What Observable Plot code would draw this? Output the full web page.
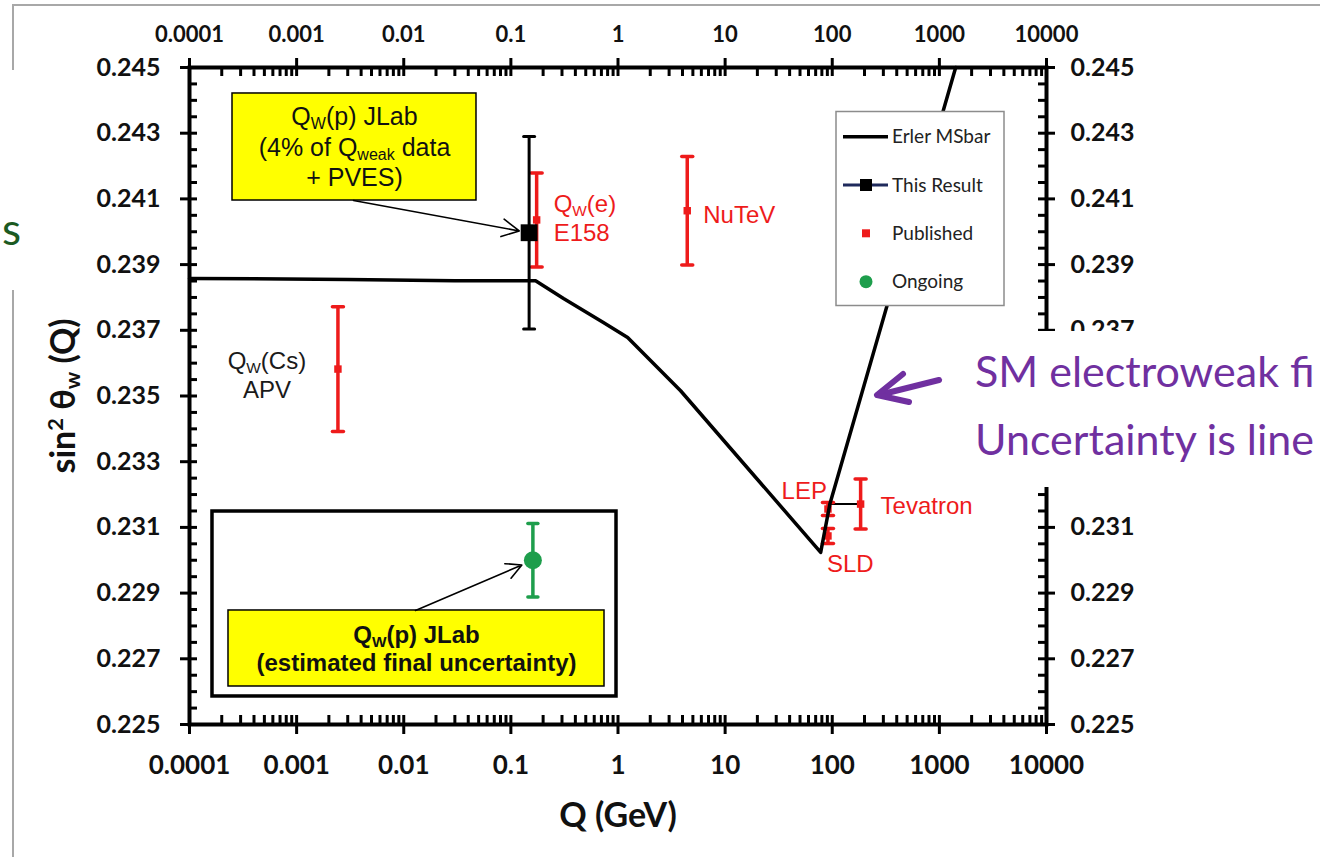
<!DOCTYPE html>
<html>
<head>
<meta charset="utf-8">
<script src="https://cdn.jsdelivr.net/npm/d3@7"></script>
<script src="https://cdn.jsdelivr.net/npm/@observablehq/plot@0.6"></script>
<style>
  html, body { margin: 0; padding: 0; background: #fff; }
  #stage { position: relative; width: 1320px; height: 857px; overflow: hidden; background: #fff; }
  #stage > svg { position: absolute; left: 0; top: 0; }
</style>
</head>
<body>
<div id="stage"></div>
<script>
// ---------------- data ----------------
const xTicks = [0.0001, 0.001, 0.01, 0.1, 1, 10, 100, 1000, 10000];
const xTickLabels = ["0.0001", "0.001", "0.01", "0.1", "1", "10", "100", "1000", "10000"];
const yTicks = [0.225, 0.227, 0.229, 0.231, 0.233, 0.235, 0.237, 0.239, 0.241, 0.243, 0.245];
const yTickLabels = ["0.225", "0.227", "0.229", "0.231", "0.233", "0.235", "0.237", "0.239", "0.241", "0.243", "0.245"];
// right-axis labels that the slide's text box hides
const yRightHidden = [0.233, 0.235];

// Erler MSbar running of sin^2 theta_W
const erlerQ = [0.0001, 0.003, 0.03, 0.17, 0.31, 0.73, 1.23, 3.84, 78, 95, 1420];
const erlerS = [0.23858, 0.23855, 0.23851, 0.23851, 0.23797, 0.23724, 0.23678, 0.23516, 0.23024, 0.23171, 0.245];

// Published measurements
const publishedLabels = ["Q_{W}(Cs)\nAPV", "Q_{W}(e)\nE158", "NuTeV", "LEP", "SLD", "Tevatron"];
const publishedQ = [0.00243, 0.174, 4.43, 91.19, 91.19, 184];
const publishedS = [0.23582, 0.24036, 0.24064, 0.23156, 0.23074, 0.23171];
const publishedErr = [0.0019, 0.00143, 0.00165, 0.0002, 0.00023, 0.00076];

// This result
const thisResultQ = [0.148];
const thisResultS = [0.23997];
const thisResultErr = [0.00293];

// Ongoing
const ongoingQ = [0.1605];
const ongoingS = [0.2300];
const ongoingErr = [0.00112];

const legendLabels = ["Erler MSbar", "This Result", "Published", "Ongoing"];
const calloutTopText = "Q_{W}(p) JLab\n(4% of Q_{weak} data\n+ PVES)";
const calloutBottomText = "Q_{W}(p) JLab\n(estimated final uncertainty)";
const xTitle = "Q (GeV)";
const yTitle = "sin^{2} θ_{w} (Q)";
const noteLines = ["SM electroweak fi", "Uncertainty is line"];
const leftCutText = "s";

// ---------------- layout / style ----------------
const W = 1320, H = 857;
const M = {left: 189, right: 274, top: 67, bottom: 133};
const FW = W - M.left - M.right, FH = H - M.top - M.bottom;
const X0 = 1e-4, X1 = 1e4, Y0 = 0.225, Y1 = 0.245;
const RED = "#ee1b1b", GREEN = "#1e9e4c", PURPLE = "#7030a0", YELLOW = "#ffff00";
const labelLayout = [
  {dx: -71, dy: 5, textAnchor: "middle", fill: "#1a1a1a"},
  {dx: 17, dy: -2.5, textAnchor: "start", fill: RED},
  {dx: 16, dy: 3, textAnchor: "start", fill: RED},
  {dx: -1, dy: -19, textAnchor: "end", fill: RED},
  {dx: -1, dy: 27, textAnchor: "start", fill: RED},
  {dx: 20, dy: 1, textAnchor: "start", fill: RED}
];
const callouts = {
  topBox: {x1: 2.52e-4, x2: 0.04776, y1: 0.240951, y2: 0.244209},
  topText: {x: 0.00347, y: 0.242623},
  topArrowFrom: {x: 0.003396, y: 0.240951},
  outerBox: {x1: 1.639e-4, x2: 0.9683, y1: 0.225853, y2: 0.231484},
  bottomBox: {x1: 2.312e-4, x2: 0.7482, y1: 0.226157, y2: 0.228471},
  bottomText: {x: 0.01315, y: 0.227338},
  bottomArrowFrom: {x: 0.01287, y: 0.228471}
};

// ---------------- tables ----------------
const erler = erlerQ.map((Q, i) => ({Q, S: erlerS[i]}));
const published = publishedQ.map((Q, i) => ({Q, S: publishedS[i], err: publishedErr[i], label: publishedLabels[i]}));
const thisResult = thisResultQ.map((Q, i) => ({Q, S: thisResultS[i], err: thisResultErr[i]}));
const ongoing = ongoingQ.map((Q, i) => ({Q, S: ongoingS[i], err: ongoingErr[i]}));

const minorX = [];
for (let e = -4; e < 4; e++) for (let k = 2; k <= 9; k++) minorX.push(k * Math.pow(10, e));
const minorY = [];
for (let i = 0; i <= 40; i++) if (i % 4) minorY.push(+(0.225 + i * 0.0005).toFixed(5));

const xLabel = new Map(xTicks.map((t, i) => [t, xTickLabels[i]]));
const yLabel = new Map(yTicks.map((t, i) => [t, yTickLabels[i]]));

const capShape = {draw(ctx, l) { ctx.moveTo(-l / 2, 0); ctx.lineTo(l / 2, 0); }};
function errorBars(data, color, width, capLen) {
  return [
    Plot.ruleX(data, {x: "Q", y1: d => d.S - d.err, y2: d => d.S + d.err, stroke: color, strokeWidth: width}),
    Plot.vector(data, {x: "Q", y: d => d.S + d.err, length: capLen, anchor: "start", shape: capShape, stroke: color, strokeWidth: width}),
    Plot.vector(data, {x: "Q", y: d => d.S - d.err, length: capLen, anchor: "start", shape: capShape, stroke: color, strokeWidth: width})
  ];
}

// tick marks: short rules in data space (majors cross the axis, minors point inward)
const yPx = (Y1 - Y0) / FH;                      // data units per pixel (y)
const xPx = Math.log10(X1 / X0) / FW;            // decades per pixel (x)
const yOff = (edge, px) => () => edge + px * yPx;
const xOff = (edge, px) => () => edge * Math.pow(10, px * xPx);
const tk = {stroke: "black", strokeWidth: 3};
const axisMarks = [
  Plot.ruleX(xTicks, {x: d => d, y1: yOff(Y0, -10), y2: yOff(Y0, 9), ...tk}),
  Plot.ruleX(minorX, {x: d => d, y1: yOff(Y0, 0), y2: yOff(Y0, 9), ...tk}),
  Plot.ruleX(xTicks, {x: d => d, y1: yOff(Y1, -9), y2: yOff(Y1, 9), ...tk}),
  Plot.ruleX(minorX, {x: d => d, y1: yOff(Y1, -9), y2: yOff(Y1, 0), ...tk}),
  Plot.ruleY(yTicks, {y: d => d, x1: xOff(X0, -9), x2: xOff(X0, 8), ...tk}),
  Plot.ruleY(minorY, {y: d => d, x1: xOff(X0, 0), x2: xOff(X0, 8), ...tk}),
  Plot.ruleY(yTicks, {y: d => d, x1: xOff(X1, -8), x2: xOff(X1, 9), ...tk}),
  Plot.ruleY(minorY, {y: d => d, x1: xOff(X1, -8), x2: xOff(X1, 0), ...tk})
];
const labelOpts = {tickSize: 0, label: null, fontWeight: "bold", fontFamily: "Lato", fill: "#111"};
axisMarks.push(Plot.axisX({anchor: "bottom", ticks: xTicks, tickPadding: 31, tickFormat: d => xLabel.get(d), fontSize: 26, ...labelOpts}));
axisMarks.push(Plot.axisX({anchor: "top", ticks: xTicks, tickPadding: 26, tickFormat: d => xLabel.get(d), fontSize: 22, ...labelOpts}));
axisMarks.push(Plot.axisY({anchor: "left", ticks: yTicks, tickPadding: 29, tickFormat: d => yLabel.get(d), fontSize: 25, ...labelOpts}));
axisMarks.push(Plot.axisY({anchor: "right", ticks: yTicks.filter(t => !yRightHidden.includes(t)), tickPadding: 24, tickFormat: d => yLabel.get(d), fontSize: 25, textAnchor: "start", ...labelOpts}));

const labelMarks = published.map((d, i) => Plot.text([d], {
  x: "Q", y: "S", text: "label", dx: labelLayout[i].dx, dy: labelLayout[i].dy,
  textAnchor: labelLayout[i].textAnchor, fill: labelLayout[i].fill,
  fontSize: 24, lineHeight: 1.2, fontFamily: "Liberation Sans, Arial, sans-serif"
}));

const svg = Plot.plot({
  width: W, height: H,
  marginLeft: M.left, marginRight: M.right, marginTop: M.top, marginBottom: M.bottom,
  x: {type: "log", domain: [X0, X1]},
  y: {domain: [Y0, Y1]},
  style: {background: "transparent", overflow: "visible", fontFamily: "Lato"},
  marks: [
    // callout boxes
    Plot.rect([callouts.outerBox], {x1: "x1", x2: "x2", y1: "y1", y2: "y2", fill: "white", stroke: "black", strokeWidth: 3.5}),
    Plot.rect([callouts.bottomBox], {x1: "x1", x2: "x2", y1: "y1", y2: "y2", fill: YELLOW, stroke: "black", strokeWidth: 1.5}),
    Plot.rect([callouts.topBox], {x1: "x1", x2: "x2", y1: "y1", y2: "y2", fill: YELLOW, stroke: "black", strokeWidth: 1.5}),
    Plot.text([{...callouts.topText, t: calloutTopText}], {x: "x", y: "y", text: "t", fontSize: 25, lineHeight: 1.24, fill: "#111", fontFamily: "Liberation Sans, Arial, sans-serif"}),
    Plot.text([{...callouts.bottomText, t: calloutBottomText}], {x: "x", y: "y", text: "t", fontSize: 24, lineHeight: 1.2, fontWeight: "bold", fill: "#111", fontFamily: "Liberation Sans, Arial, sans-serif"}),
    Plot.arrow(thisResult, {x1: () => callouts.topArrowFrom.x, y1: () => callouts.topArrowFrom.y, x2: "Q", y2: "S", insetEnd: 10, headLength: 18, headAngle: 55, stroke: "black", strokeWidth: 1.6}),
    Plot.arrow(ongoing, {x1: () => callouts.bottomArrowFrom.x, y1: () => callouts.bottomArrowFrom.y, x2: "Q", y2: "S", insetEnd: 12, headLength: 16, headAngle: 55, stroke: "black", strokeWidth: 1.6}),
    // Tevatron link to Z pole
    Plot.ruleY([published[5]], {y: "S", x1: () => published[3].Q, x2: "Q", stroke: "black", strokeWidth: 2}),
    // error bars and markers
    ...errorBars(published, RED, 3.5, 11),
    ...errorBars(thisResult, "black", 3, 11),
    ...errorBars(ongoing, GREEN, 3.5, 10),
    Plot.dot(published, {x: "Q", y: "S", symbol: "square", r: 4.2, fill: RED}),
    Plot.line(erler, {x: "Q", y: "S", stroke: "black", strokeWidth: 3.5, strokeLinejoin: "round"}),
    Plot.dot(thisResult, {x: "Q", y: "S", symbol: "square", r: 9.5, fill: "black"}),
    Plot.dot(ongoing, {x: "Q", y: "S", r: 9, fill: GREEN}),
    ...labelMarks,
    // titles
    Plot.text([xTitle], {frameAnchor: "bottom", dy: 92, lineAnchor: "middle", textAnchor: "middle", text: d => d, fontSize: 34, fontWeight: "bold", fontFamily: "Lato", fill: "#111"}),
    Plot.text([yTitle], {frameAnchor: "left", dx: -125, rotate: -90, lineAnchor: "middle", textAnchor: "middle", text: d => d, fontSize: 34, fontWeight: "bold", fontFamily: "Lato", fill: "#111"}),
    Plot.frame({stroke: "black", strokeWidth: 4}),
    ...axisMarks
  ]
});

const stage = document.getElementById("stage");
stage.appendChild(svg);

// sub/superscript markup -> tspans (run once in the document so font sizes resolve)
function richify(root) {
  const NS = "http://www.w3.org/2000/svg";
  root.querySelectorAll("text, tspan").forEach(node => {
    if (node.querySelector("tspan")) return;
    const s = node.textContent;
    if (!/[_^]\{/.test(s)) return;
    const fs = parseFloat(getComputedStyle(node).fontSize) || 16;
    node.textContent = "";
    const re = /([_^])\{([^}]*)\}/g;
    let last = 0, m;
    const add = (str, kind) => {
      if (!str) return;
      const t = document.createElementNS(NS, "tspan");
      t.textContent = str;
      if (kind) {
        t.setAttribute("font-size", (fs * 0.64).toFixed(1));
        t.setAttribute("baseline-shift", kind === "_" ? (-0.16 * fs).toFixed(1) : (0.36 * fs).toFixed(1));
      }
      node.appendChild(t);
    };
    while ((m = re.exec(s))) { add(s.slice(last, m.index)); add(m[2], m[1]); last = re.lastIndex; }
    add(s.slice(last));
  });
}
richify(svg);

// slide decorations + legend overlay
const legendY = [136.7, 185, 233.3, 281.7];
const overlay = `
<svg width="1320" height="857" xmlns="http://www.w3.org/2000/svg" style="pointer-events:none">
  <line x1="12" y1="5" x2="1320" y2="5" stroke="#a8a8a8" stroke-width="2"/>
  <line x1="13" y1="4" x2="13" y2="70" stroke="#a8a8a8" stroke-width="2"/>
  <line x1="13" y1="290" x2="13" y2="857" stroke="#a8a8a8" stroke-width="2"/>
  <text x="2" y="245" font-family="Lato" font-size="44" fill="#1b5a22">${leftCutText}</text>
  <rect x="958" y="331" width="362" height="156" fill="#ffffff"/>
  <text x="975" y="387" font-family="Lato" font-size="43" fill="${PURPLE}">${noteLines[0]}</text>
  <text x="975" y="455" font-family="Lato" font-size="43" fill="${PURPLE}">${noteLines[1]}</text>
  <g stroke="${PURPLE}" stroke-width="6" stroke-linecap="round" stroke-linejoin="round" fill="none">
    <line x1="939" y1="380" x2="879" y2="395"/>
    <polyline points="903,374 877,395 909,402"/>
  </g>
  <g font-family="Lato" font-size="19" fill="#222">
    <rect x="836" y="111.5" width="168" height="194" fill="#fff" stroke="#8c8c8c" stroke-width="1.5"/>
    <line x1="843" x2="888" y1="${legendY[0]}" y2="${legendY[0]}" stroke="#000" stroke-width="3.5"/>
    <line x1="843" x2="888" y1="${legendY[1]}" y2="${legendY[1]}" stroke="#1f2a5c" stroke-width="3"/>
    <rect x="860" y="${legendY[1] - 6}" width="12" height="12" fill="#000"/>
    <rect x="862" y="${legendY[2] - 4}" width="8" height="8" fill="${RED}"/>
    <circle cx="866" cy="${legendY[3]}" r="6.5" fill="${GREEN}"/>
    ${legendLabels.map((t, i) => `<text x="892" y="${legendY[i] + 6.5}">${t}</text>`).join("")}
  </g>
</svg>`;
stage.insertAdjacentHTML("beforeend", overlay);
</script>
</body>
</html>
